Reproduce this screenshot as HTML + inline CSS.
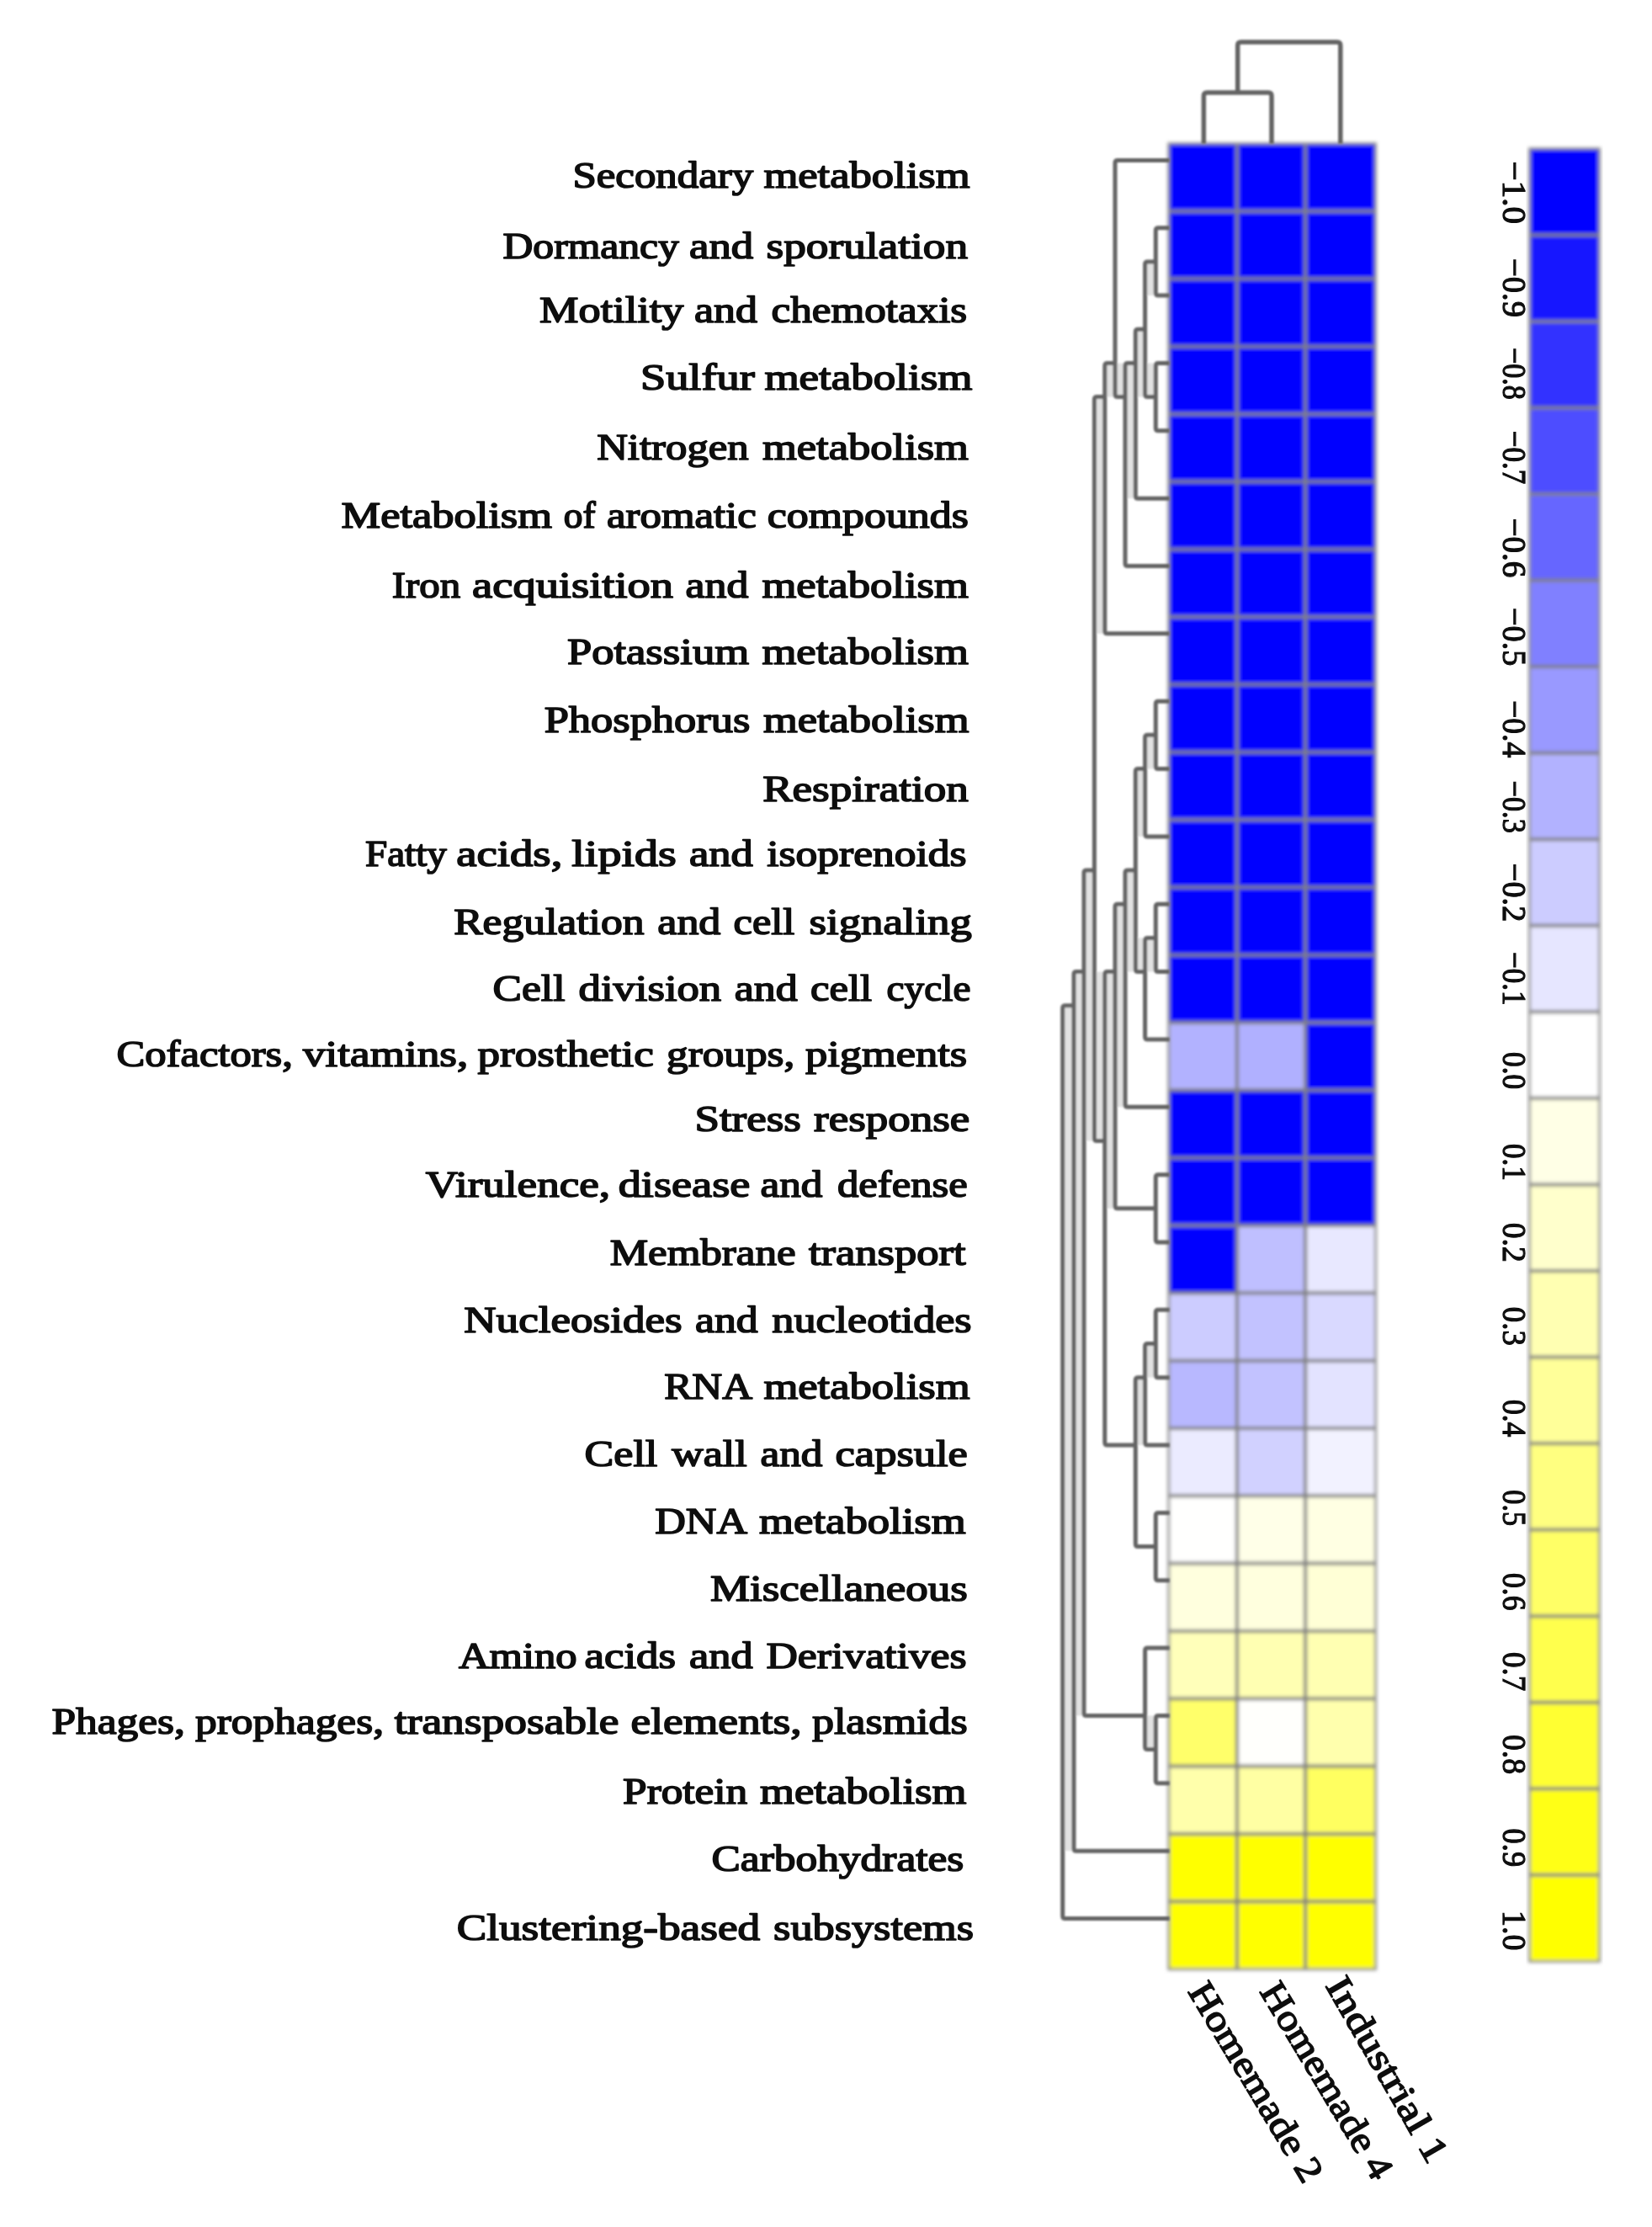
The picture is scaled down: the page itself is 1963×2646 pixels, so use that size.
<!DOCTYPE html>
<html lang="en"><head><meta charset="utf-8"><title>Heatmap of functional subsystems</title>
<style>html,body{margin:0;padding:0;background:#fff}body{width:1963px;height:2646px;overflow:hidden}svg{display:block}text{font-family:"Liberation Serif",serif;fill:#0a0a0a}.rl{font-size:44px;stroke:#0a0a0a;stroke-width:1.6px;stroke-linejoin:round}.cl{font-size:44px;stroke:#0a0a0a;stroke-width:1.5px;stroke-linejoin:round}.cb{font-size:41px;stroke:#0a0a0a;stroke-width:1.2px}</style>
</head><body>
<svg width="1963" height="2646" viewBox="0 0 1963 2646">
<defs><filter id="bg" x="-5%" y="-5%" width="110%" height="110%"><feGaussianBlur stdDeviation="1.9"/></filter><filter id="bd" x="-5%" y="-5%" width="110%" height="110%"><feGaussianBlur stdDeviation="1.1"/></filter><filter id="bt" x="-5%" y="-5%" width="110%" height="110%"><feGaussianBlur stdDeviation="0.7"/></filter></defs>
<rect width="1963" height="2646" fill="#ffffff"/>
<g id="graphics" filter="url(#bg)">
<g id="heat" shape-rendering="crispEdges">
<rect x="1388.80" y="170.70" width="81.10" height="80.33" fill="#0000ff"/>
<rect x="1469.90" y="170.70" width="81.20" height="80.33" fill="#0000ff"/>
<rect x="1551.10" y="170.70" width="83.40" height="80.33" fill="#0000ff"/>
<rect x="1388.80" y="251.03" width="81.10" height="80.33" fill="#0000ff"/>
<rect x="1469.90" y="251.03" width="81.20" height="80.33" fill="#0000ff"/>
<rect x="1551.10" y="251.03" width="83.40" height="80.33" fill="#0000ff"/>
<rect x="1388.80" y="331.36" width="81.10" height="80.33" fill="#0000ff"/>
<rect x="1469.90" y="331.36" width="81.20" height="80.33" fill="#0000ff"/>
<rect x="1551.10" y="331.36" width="83.40" height="80.33" fill="#0000ff"/>
<rect x="1388.80" y="411.69" width="81.10" height="80.33" fill="#0000ff"/>
<rect x="1469.90" y="411.69" width="81.20" height="80.33" fill="#0000ff"/>
<rect x="1551.10" y="411.69" width="83.40" height="80.33" fill="#0000ff"/>
<rect x="1388.80" y="492.02" width="81.10" height="80.33" fill="#0000ff"/>
<rect x="1469.90" y="492.02" width="81.20" height="80.33" fill="#0000ff"/>
<rect x="1551.10" y="492.02" width="83.40" height="80.33" fill="#0000ff"/>
<rect x="1388.80" y="572.35" width="81.10" height="80.33" fill="#0000ff"/>
<rect x="1469.90" y="572.35" width="81.20" height="80.33" fill="#0000ff"/>
<rect x="1551.10" y="572.35" width="83.40" height="80.33" fill="#0000ff"/>
<rect x="1388.80" y="652.68" width="81.10" height="80.33" fill="#0000ff"/>
<rect x="1469.90" y="652.68" width="81.20" height="80.33" fill="#0000ff"/>
<rect x="1551.10" y="652.68" width="83.40" height="80.33" fill="#0000ff"/>
<rect x="1388.80" y="733.01" width="81.10" height="80.33" fill="#0000ff"/>
<rect x="1469.90" y="733.01" width="81.20" height="80.33" fill="#0000ff"/>
<rect x="1551.10" y="733.01" width="83.40" height="80.33" fill="#0000ff"/>
<rect x="1388.80" y="813.34" width="81.10" height="80.33" fill="#0000ff"/>
<rect x="1469.90" y="813.34" width="81.20" height="80.33" fill="#0000ff"/>
<rect x="1551.10" y="813.34" width="83.40" height="80.33" fill="#0000ff"/>
<rect x="1388.80" y="893.67" width="81.10" height="80.33" fill="#0000ff"/>
<rect x="1469.90" y="893.67" width="81.20" height="80.33" fill="#0000ff"/>
<rect x="1551.10" y="893.67" width="83.40" height="80.33" fill="#0000ff"/>
<rect x="1388.80" y="974.00" width="81.10" height="80.33" fill="#0000ff"/>
<rect x="1469.90" y="974.00" width="81.20" height="80.33" fill="#0000ff"/>
<rect x="1551.10" y="974.00" width="83.40" height="80.33" fill="#0000ff"/>
<rect x="1388.80" y="1054.33" width="81.10" height="80.33" fill="#0000ff"/>
<rect x="1469.90" y="1054.33" width="81.20" height="80.33" fill="#0000ff"/>
<rect x="1551.10" y="1054.33" width="83.40" height="80.33" fill="#0000ff"/>
<rect x="1388.80" y="1134.66" width="81.10" height="80.33" fill="#0000ff"/>
<rect x="1469.90" y="1134.66" width="81.20" height="80.33" fill="#0000ff"/>
<rect x="1551.10" y="1134.66" width="83.40" height="80.33" fill="#0000ff"/>
<rect x="1388.80" y="1214.99" width="81.10" height="80.33" fill="#b2b2ff"/>
<rect x="1469.90" y="1214.99" width="81.20" height="80.33" fill="#b0b0ff"/>
<rect x="1551.10" y="1214.99" width="83.40" height="80.33" fill="#0000ff"/>
<rect x="1388.80" y="1295.31" width="81.10" height="80.33" fill="#0000ff"/>
<rect x="1469.90" y="1295.31" width="81.20" height="80.33" fill="#0000ff"/>
<rect x="1551.10" y="1295.31" width="83.40" height="80.33" fill="#0000ff"/>
<rect x="1388.80" y="1375.64" width="81.10" height="80.33" fill="#0000ff"/>
<rect x="1469.90" y="1375.64" width="81.20" height="80.33" fill="#0000ff"/>
<rect x="1551.10" y="1375.64" width="83.40" height="80.33" fill="#0000ff"/>
<rect x="1388.80" y="1455.97" width="81.10" height="80.33" fill="#0000ff"/>
<rect x="1469.90" y="1455.97" width="81.20" height="80.33" fill="#bfbfff"/>
<rect x="1551.10" y="1455.97" width="83.40" height="80.33" fill="#e8e8ff"/>
<rect x="1388.80" y="1536.30" width="81.10" height="80.33" fill="#ccccff"/>
<rect x="1469.90" y="1536.30" width="81.20" height="80.33" fill="#c2c2ff"/>
<rect x="1551.10" y="1536.30" width="83.40" height="80.33" fill="#d9d9ff"/>
<rect x="1388.80" y="1616.63" width="81.10" height="80.33" fill="#b8b8ff"/>
<rect x="1469.90" y="1616.63" width="81.20" height="80.33" fill="#c2c2ff"/>
<rect x="1551.10" y="1616.63" width="83.40" height="80.33" fill="#e3e3ff"/>
<rect x="1388.80" y="1696.96" width="81.10" height="80.33" fill="#ebebff"/>
<rect x="1469.90" y="1696.96" width="81.20" height="80.33" fill="#d1d1ff"/>
<rect x="1551.10" y="1696.96" width="83.40" height="80.33" fill="#f2f2ff"/>
<rect x="1388.80" y="1777.29" width="81.10" height="80.33" fill="#fffffe"/>
<rect x="1469.90" y="1777.29" width="81.20" height="80.33" fill="#ffffe8"/>
<rect x="1551.10" y="1777.29" width="83.40" height="80.33" fill="#ffffe3"/>
<rect x="1388.80" y="1857.62" width="81.10" height="80.33" fill="#ffffde"/>
<rect x="1469.90" y="1857.62" width="81.20" height="80.33" fill="#ffffde"/>
<rect x="1551.10" y="1857.62" width="83.40" height="80.33" fill="#ffffd6"/>
<rect x="1388.80" y="1937.95" width="81.10" height="80.33" fill="#ffffba"/>
<rect x="1469.90" y="1937.95" width="81.20" height="80.33" fill="#ffffb2"/>
<rect x="1551.10" y="1937.95" width="83.40" height="80.33" fill="#ffffb2"/>
<rect x="1388.80" y="2018.28" width="81.10" height="80.33" fill="#ffff6b"/>
<rect x="1469.90" y="2018.28" width="81.20" height="80.33" fill="#fffffc"/>
<rect x="1551.10" y="2018.28" width="83.40" height="80.33" fill="#ffffad"/>
<rect x="1388.80" y="2098.61" width="81.10" height="80.33" fill="#ffffab"/>
<rect x="1469.90" y="2098.61" width="81.20" height="80.33" fill="#ffffa3"/>
<rect x="1551.10" y="2098.61" width="83.40" height="80.33" fill="#ffff61"/>
<rect x="1388.80" y="2178.94" width="81.10" height="80.33" fill="#ffff00"/>
<rect x="1469.90" y="2178.94" width="81.20" height="80.33" fill="#ffff00"/>
<rect x="1551.10" y="2178.94" width="83.40" height="80.33" fill="#ffff00"/>
<rect x="1388.80" y="2259.27" width="81.10" height="80.33" fill="#ffff00"/>
<rect x="1469.90" y="2259.27" width="81.20" height="80.33" fill="#ffff00"/>
<rect x="1551.10" y="2259.27" width="83.40" height="80.33" fill="#ffff00"/>
</g>
<g id="heatgrid" stroke="#808080" stroke-width="4" fill="none">
<line x1="1388.80" y1="251.03" x2="1634.50" y2="251.03"/>
<line x1="1388.80" y1="331.36" x2="1634.50" y2="331.36"/>
<line x1="1388.80" y1="411.69" x2="1634.50" y2="411.69"/>
<line x1="1388.80" y1="492.02" x2="1634.50" y2="492.02"/>
<line x1="1388.80" y1="572.35" x2="1634.50" y2="572.35"/>
<line x1="1388.80" y1="652.68" x2="1634.50" y2="652.68"/>
<line x1="1388.80" y1="733.01" x2="1634.50" y2="733.01"/>
<line x1="1388.80" y1="813.34" x2="1634.50" y2="813.34"/>
<line x1="1388.80" y1="893.67" x2="1634.50" y2="893.67"/>
<line x1="1388.80" y1="974.00" x2="1634.50" y2="974.00"/>
<line x1="1388.80" y1="1054.33" x2="1634.50" y2="1054.33"/>
<line x1="1388.80" y1="1134.66" x2="1634.50" y2="1134.66"/>
<line x1="1388.80" y1="1214.99" x2="1634.50" y2="1214.99"/>
<line x1="1388.80" y1="1295.31" x2="1634.50" y2="1295.31"/>
<line x1="1388.80" y1="1375.64" x2="1634.50" y2="1375.64"/>
<line x1="1388.80" y1="1455.97" x2="1634.50" y2="1455.97"/>
<line x1="1388.80" y1="1536.30" x2="1634.50" y2="1536.30"/>
<line x1="1388.80" y1="1616.63" x2="1634.50" y2="1616.63"/>
<line x1="1388.80" y1="1696.96" x2="1634.50" y2="1696.96"/>
<line x1="1388.80" y1="1777.29" x2="1634.50" y2="1777.29"/>
<line x1="1388.80" y1="1857.62" x2="1634.50" y2="1857.62"/>
<line x1="1388.80" y1="1937.95" x2="1634.50" y2="1937.95"/>
<line x1="1388.80" y1="2018.28" x2="1634.50" y2="2018.28"/>
<line x1="1388.80" y1="2098.61" x2="1634.50" y2="2098.61"/>
<line x1="1388.80" y1="2178.94" x2="1634.50" y2="2178.94"/>
<line x1="1388.80" y1="2259.27" x2="1634.50" y2="2259.27"/>
<line x1="1469.90" y1="170.70" x2="1469.90" y2="2339.60"/>
<line x1="1551.10" y1="170.70" x2="1551.10" y2="2339.60"/>
</g>
<rect x="1388.80" y="170.70" width="245.70" height="2168.90" fill="none" stroke="#909090" stroke-width="3"/>
</g>
<g id="dendrograms" filter="url(#bd)">
<g id="rowdendfill" fill="#e2e2e2">
<rect x="1360.60" y="310.93" width="12.70" height="40.18"/>
<rect x="1360.60" y="431.45" width="12.70" height="40.18"/>
<rect x="1349.30" y="391.27" width="11.30" height="80.35"/>
<rect x="1337.00" y="431.45" width="12.30" height="160.70"/>
<rect x="1325.00" y="431.45" width="12.00" height="40.18"/>
<rect x="1312.80" y="431.45" width="12.20" height="40.18"/>
<rect x="1360.60" y="873.37" width="12.70" height="40.18"/>
<rect x="1360.60" y="1114.42" width="12.70" height="40.17"/>
<rect x="1349.30" y="913.55" width="11.30" height="80.35"/>
<rect x="1349.30" y="1114.42" width="11.30" height="40.17"/>
<rect x="1337.00" y="1034.08" width="12.30" height="120.52"/>
<rect x="1325.00" y="1074.25" width="12.00" height="241.05"/>
<rect x="1360.60" y="1596.53" width="12.70" height="40.17"/>
<rect x="1349.30" y="1636.70" width="11.30" height="80.35"/>
<rect x="1312.80" y="1154.60" width="12.20" height="281.23"/>
<rect x="1300.40" y="471.62" width="12.40" height="281.22"/>
<rect x="1300.40" y="1154.60" width="12.40" height="200.88"/>
<rect x="1360.60" y="2038.45" width="12.70" height="40.17"/>
<rect x="1288.00" y="1034.08" width="12.40" height="321.40"/>
<rect x="1276.00" y="1154.60" width="12.00" height="883.85"/>
<rect x="1262.70" y="1194.77" width="13.30" height="1004.37"/>
</g>
<g id="rowdend" stroke="#646464" stroke-width="5.0" fill="none" stroke-linejoin="round" stroke-linecap="butt">
<path d="M1389.80 270.75 H1376.30 Q1373.30 270.75 1373.30 273.75 V348.10 Q1373.30 351.10 1376.30 351.10 H1389.80"/>
<path d="M1389.80 431.45 H1376.30 Q1373.30 431.45 1373.30 434.45 V508.80 Q1373.30 511.80 1376.30 511.80 H1389.80"/>
<path d="M1373.30 310.93 H1363.60 Q1360.60 310.93 1360.60 313.93 V468.62 Q1360.60 471.62 1363.60 471.62 H1373.30"/>
<path d="M1360.60 391.27 H1352.30 Q1349.30 391.27 1349.30 394.27 V589.15 Q1349.30 592.15 1352.30 592.15 H1389.80"/>
<path d="M1349.30 431.45 H1340.00 Q1337.00 431.45 1337.00 434.45 V669.50 Q1337.00 672.50 1340.00 672.50 H1389.80"/>
<path d="M1389.80 190.40 H1328.00 Q1325.00 190.40 1325.00 193.40 V468.62 Q1325.00 471.62 1328.00 471.62 H1337.00"/>
<path d="M1325.00 431.45 H1315.80 Q1312.80 431.45 1312.80 434.45 V749.85 Q1312.80 752.85 1315.80 752.85 H1389.80"/>
<path d="M1389.80 833.20 H1376.30 Q1373.30 833.20 1373.30 836.20 V910.55 Q1373.30 913.55 1376.30 913.55 H1389.80"/>
<path d="M1373.30 873.37 H1363.60 Q1360.60 873.37 1360.60 876.37 V990.90 Q1360.60 993.90 1363.60 993.90 H1389.80"/>
<path d="M1389.80 1074.25 H1376.30 Q1373.30 1074.25 1373.30 1077.25 V1151.60 Q1373.30 1154.60 1376.30 1154.60 H1389.80"/>
<path d="M1373.30 1114.42 H1363.60 Q1360.60 1114.42 1360.60 1117.42 V1231.95 Q1360.60 1234.95 1363.60 1234.95 H1389.80"/>
<path d="M1360.60 913.55 H1352.30 Q1349.30 913.55 1349.30 916.55 V1151.60 Q1349.30 1154.60 1352.30 1154.60 H1360.60"/>
<path d="M1349.30 1034.08 H1340.00 Q1337.00 1034.08 1337.00 1037.08 V1312.30 Q1337.00 1315.30 1340.00 1315.30 H1389.80"/>
<path d="M1389.80 1395.65 H1376.30 Q1373.30 1395.65 1373.30 1398.65 V1473.00 Q1373.30 1476.00 1376.30 1476.00 H1389.80"/>
<path d="M1337.00 1074.25 H1328.00 Q1325.00 1074.25 1325.00 1077.25 V1432.83 Q1325.00 1435.83 1328.00 1435.83 H1373.30"/>
<path d="M1389.80 1556.35 H1376.30 Q1373.30 1556.35 1373.30 1559.35 V1633.70 Q1373.30 1636.70 1376.30 1636.70 H1389.80"/>
<path d="M1373.30 1596.53 H1363.60 Q1360.60 1596.53 1360.60 1599.53 V1714.05 Q1360.60 1717.05 1363.60 1717.05 H1389.80"/>
<path d="M1389.80 1797.40 H1376.30 Q1373.30 1797.40 1373.30 1800.40 V1874.75 Q1373.30 1877.75 1376.30 1877.75 H1389.80"/>
<path d="M1360.60 1636.70 H1352.30 Q1349.30 1636.70 1349.30 1639.70 V1834.58 Q1349.30 1837.58 1352.30 1837.58 H1373.30"/>
<path d="M1325.00 1154.60 H1315.80 Q1312.80 1154.60 1312.80 1157.60 V1714.05 Q1312.80 1717.05 1315.80 1717.05 H1349.30"/>
<path d="M1312.80 471.62 H1303.40 Q1300.40 471.62 1300.40 474.62 V1352.47 Q1300.40 1355.47 1303.40 1355.47 H1312.80"/>
<path d="M1389.80 2038.45 H1376.30 Q1373.30 2038.45 1373.30 2041.45 V2115.80 Q1373.30 2118.80 1376.30 2118.80 H1389.80"/>
<path d="M1389.80 1958.10 H1363.60 Q1360.60 1958.10 1360.60 1961.10 V2075.62 Q1360.60 2078.62 1363.60 2078.62 H1373.30"/>
<path d="M1300.40 1034.08 H1291.00 Q1288.00 1034.08 1288.00 1037.08 V2035.45 Q1288.00 2038.45 1291.00 2038.45 H1360.60"/>
<path d="M1288.00 1154.60 H1279.00 Q1276.00 1154.60 1276.00 1157.60 V2196.15 Q1276.00 2199.15 1279.00 2199.15 H1389.80"/>
<path d="M1276.00 1194.77 H1265.70 Q1262.70 1194.77 1262.70 1197.77 V2276.50 Q1262.70 2279.50 1265.70 2279.50 H1389.80"/>
</g>
<g id="coldend" stroke="#646464" stroke-width="5.5" fill="none" stroke-linejoin="round">
<path d="M1430.35 170.70 V113.90 Q1430.35 109.90 1434.35 109.90 H1507.00 Q1511.00 109.90 1511.00 113.90 V170.70"/>
<path d="M1470.67 109.90 V54.00 Q1470.67 50.00 1474.67 50.00 H1588.80 Q1592.80 50.00 1592.80 54.00 V170.70"/>
</g>
</g>
<g id="colorbar" filter="url(#bg)">
<g id="cbar" shape-rendering="crispEdges">
<rect x="1817.50" y="176.80" width="83.00" height="102.55" fill="#0000ff"/>
<rect x="1817.50" y="279.35" width="83.00" height="102.55" fill="#1919ff"/>
<rect x="1817.50" y="381.90" width="83.00" height="102.55" fill="#3333ff"/>
<rect x="1817.50" y="484.45" width="83.00" height="102.55" fill="#4d4dff"/>
<rect x="1817.50" y="587.00" width="83.00" height="102.55" fill="#6666ff"/>
<rect x="1817.50" y="689.55" width="83.00" height="102.55" fill="#8080ff"/>
<rect x="1817.50" y="792.10" width="83.00" height="102.55" fill="#9999ff"/>
<rect x="1817.50" y="894.65" width="83.00" height="102.55" fill="#b2b2ff"/>
<rect x="1817.50" y="997.20" width="83.00" height="102.55" fill="#ccccff"/>
<rect x="1817.50" y="1099.75" width="83.00" height="102.55" fill="#e6e6ff"/>
<rect x="1817.50" y="1202.30" width="83.00" height="102.55" fill="#ffffff"/>
<rect x="1817.50" y="1304.85" width="83.00" height="102.55" fill="#ffffe6"/>
<rect x="1817.50" y="1407.40" width="83.00" height="102.55" fill="#ffffcc"/>
<rect x="1817.50" y="1509.95" width="83.00" height="102.55" fill="#ffffb2"/>
<rect x="1817.50" y="1612.50" width="83.00" height="102.55" fill="#ffff99"/>
<rect x="1817.50" y="1715.05" width="83.00" height="102.55" fill="#ffff80"/>
<rect x="1817.50" y="1817.60" width="83.00" height="102.55" fill="#ffff66"/>
<rect x="1817.50" y="1920.15" width="83.00" height="102.55" fill="#ffff4d"/>
<rect x="1817.50" y="2022.70" width="83.00" height="102.55" fill="#ffff33"/>
<rect x="1817.50" y="2125.25" width="83.00" height="102.55" fill="#ffff19"/>
<rect x="1817.50" y="2227.80" width="83.00" height="102.55" fill="#ffff00"/>
</g>
<g stroke="#808080" stroke-width="4">
<line x1="1817.50" y1="279.35" x2="1900.50" y2="279.35"/>
<line x1="1817.50" y1="381.90" x2="1900.50" y2="381.90"/>
<line x1="1817.50" y1="484.45" x2="1900.50" y2="484.45"/>
<line x1="1817.50" y1="587.00" x2="1900.50" y2="587.00"/>
<line x1="1817.50" y1="689.55" x2="1900.50" y2="689.55"/>
<line x1="1817.50" y1="792.10" x2="1900.50" y2="792.10"/>
<line x1="1817.50" y1="894.65" x2="1900.50" y2="894.65"/>
<line x1="1817.50" y1="997.20" x2="1900.50" y2="997.20"/>
<line x1="1817.50" y1="1099.75" x2="1900.50" y2="1099.75"/>
<line x1="1817.50" y1="1202.30" x2="1900.50" y2="1202.30"/>
<line x1="1817.50" y1="1304.85" x2="1900.50" y2="1304.85"/>
<line x1="1817.50" y1="1407.40" x2="1900.50" y2="1407.40"/>
<line x1="1817.50" y1="1509.95" x2="1900.50" y2="1509.95"/>
<line x1="1817.50" y1="1612.50" x2="1900.50" y2="1612.50"/>
<line x1="1817.50" y1="1715.05" x2="1900.50" y2="1715.05"/>
<line x1="1817.50" y1="1817.60" x2="1900.50" y2="1817.60"/>
<line x1="1817.50" y1="1920.15" x2="1900.50" y2="1920.15"/>
<line x1="1817.50" y1="2022.70" x2="1900.50" y2="2022.70"/>
<line x1="1817.50" y1="2125.25" x2="1900.50" y2="2125.25"/>
<line x1="1817.50" y1="2227.80" x2="1900.50" y2="2227.80"/>
</g>
<rect x="1817.50" y="176.80" width="83.00" height="2153.55" fill="none" stroke="#909090" stroke-width="3"/>
</g>
<g id="texts" filter="url(#bt)">
<g id="cblabels" class="cb">
<text transform="translate(1785.80 191.51) rotate(90)" textLength="74.59" lengthAdjust="spacingAndGlyphs">−1.0</text>
<text transform="translate(1785.80 307.11) rotate(90)" textLength="69.86" lengthAdjust="spacingAndGlyphs">−0.9</text>
<text transform="translate(1785.80 412.90) rotate(90)" textLength="62.08" lengthAdjust="spacingAndGlyphs">−0.8</text>
<text transform="translate(1785.80 511.83) rotate(90)" textLength="63.41" lengthAdjust="spacingAndGlyphs">−0.7</text>
<text transform="translate(1785.80 615.38) rotate(90)" textLength="70.85" lengthAdjust="spacingAndGlyphs">−0.6</text>
<text transform="translate(1785.80 722.01) rotate(90)" textLength="69.30" lengthAdjust="spacingAndGlyphs">−0.5</text>
<text transform="translate(1785.80 832.13) rotate(90)" textLength="68.00" lengthAdjust="spacingAndGlyphs">−0.4</text>
<text transform="translate(1785.80 927.54) rotate(90)" textLength="62.32" lengthAdjust="spacingAndGlyphs">−0.3</text>
<text transform="translate(1785.80 1025.80) rotate(90)" textLength="69.57" lengthAdjust="spacingAndGlyphs">−0.2</text>
<text transform="translate(1785.80 1130.88) rotate(90)" textLength="63.58" lengthAdjust="spacingAndGlyphs">−0.1</text>
<text transform="translate(1785.80 1249.94) rotate(90)" textLength="44.23" lengthAdjust="spacingAndGlyphs">0.0</text>
<text transform="translate(1785.80 1359.05) rotate(90)" textLength="43.69" lengthAdjust="spacingAndGlyphs">0.1</text>
<text transform="translate(1785.80 1452.72) rotate(90)" textLength="46.99" lengthAdjust="spacingAndGlyphs">0.2</text>
<text transform="translate(1785.80 1552.77) rotate(90)" textLength="46.07" lengthAdjust="spacingAndGlyphs">0.3</text>
<text transform="translate(1785.80 1662.88) rotate(90)" textLength="44.49" lengthAdjust="spacingAndGlyphs">0.4</text>
<text transform="translate(1785.80 1770.28) rotate(90)" textLength="42.92" lengthAdjust="spacingAndGlyphs">0.5</text>
<text transform="translate(1785.80 1868.95) rotate(90)" textLength="44.66" lengthAdjust="spacingAndGlyphs">0.6</text>
<text transform="translate(1785.80 1962.95) rotate(90)" textLength="46.30" lengthAdjust="spacingAndGlyphs">0.7</text>
<text transform="translate(1785.80 2060.91) rotate(90)" textLength="47.16" lengthAdjust="spacingAndGlyphs">0.8</text>
<text transform="translate(1785.80 2172.61) rotate(90)" textLength="45.52" lengthAdjust="spacingAndGlyphs">0.9</text>
<text transform="translate(1785.80 2270.03) rotate(90)" textLength="47.32" lengthAdjust="spacingAndGlyphs">1.0</text>
</g>
<g id="rowlabels" class="rl">
<text y="222.60"><tspan x="680.51" textLength="214.65" lengthAdjust="spacingAndGlyphs">Secondary</tspan> <tspan x="907.43" textLength="245.12" lengthAdjust="spacingAndGlyphs">metabolism</tspan></text>
<text y="307.20"><tspan x="597.56" textLength="209.32" lengthAdjust="spacingAndGlyphs">Dormancy</tspan> <tspan x="819.12" textLength="76.07" lengthAdjust="spacingAndGlyphs">and</tspan> <tspan x="910.52" textLength="239.51" lengthAdjust="spacingAndGlyphs">sporulation</tspan></text>
<text y="383.30"><tspan x="641.14" textLength="171.16" lengthAdjust="spacingAndGlyphs">Motility</tspan> <tspan x="825.12" textLength="74.79" lengthAdjust="spacingAndGlyphs">and</tspan> <tspan x="916.52" textLength="232.71" lengthAdjust="spacingAndGlyphs">chemotaxis</tspan></text>
<text y="462.60"><tspan x="760.95" textLength="135.81" lengthAdjust="spacingAndGlyphs">Sulfur</tspan> <tspan x="908.42" textLength="247.01" lengthAdjust="spacingAndGlyphs">metabolism</tspan></text>
<text y="546.20"><tspan x="709.18" textLength="180.60" lengthAdjust="spacingAndGlyphs">Nitrogen</tspan> <tspan x="905.95" textLength="244.98" lengthAdjust="spacingAndGlyphs">metabolism</tspan></text>
<text y="627.30"><tspan x="405.52" textLength="250.54" lengthAdjust="spacingAndGlyphs">Metabolism</tspan> <tspan x="669.87" textLength="37.80" lengthAdjust="spacingAndGlyphs">of</tspan> <tspan x="721.04" textLength="177.70" lengthAdjust="spacingAndGlyphs">aromatic</tspan> <tspan x="911.85" textLength="238.99" lengthAdjust="spacingAndGlyphs">compounds</tspan></text>
<text y="710.00"><tspan x="465.75" textLength="81.40" lengthAdjust="spacingAndGlyphs">Iron</tspan> <tspan x="561.04" textLength="239.09" lengthAdjust="spacingAndGlyphs">acquisition</tspan> <tspan x="814.64" textLength="74.67" lengthAdjust="spacingAndGlyphs">and</tspan> <tspan x="905.42" textLength="245.50" lengthAdjust="spacingAndGlyphs">metabolism</tspan></text>
<text y="788.60"><tspan x="673.90" textLength="216.18" lengthAdjust="spacingAndGlyphs">Potassium</tspan> <tspan x="905.42" textLength="245.50" lengthAdjust="spacingAndGlyphs">metabolism</tspan></text>
<text y="869.50"><tspan x="646.66" textLength="244.70" lengthAdjust="spacingAndGlyphs">Phosphorus</tspan> <tspan x="906.95" textLength="244.59" lengthAdjust="spacingAndGlyphs">metabolism</tspan></text>
<text y="951.80"><tspan x="906.15" textLength="244.72" lengthAdjust="spacingAndGlyphs">Respiration</tspan></text>
<text y="1029.00"><tspan x="433.93" textLength="96.89" lengthAdjust="spacingAndGlyphs">Fatty</tspan> <tspan x="542.23" textLength="126.11" lengthAdjust="spacingAndGlyphs">acids,</tspan> <tspan x="679.32" textLength="124.45" lengthAdjust="spacingAndGlyphs">lipids</tspan> <tspan x="818.96" textLength="75.76" lengthAdjust="spacingAndGlyphs">and</tspan> <tspan x="911.18" textLength="237.42" lengthAdjust="spacingAndGlyphs">isoprenoids</tspan></text>
<text y="1109.80"><tspan x="539.18" textLength="226.33" lengthAdjust="spacingAndGlyphs">Regulation</tspan> <tspan x="781.36" textLength="74.92" lengthAdjust="spacingAndGlyphs">and</tspan> <tspan x="871.59" textLength="72.62" lengthAdjust="spacingAndGlyphs">cell</tspan> <tspan x="961.52" textLength="193.33" lengthAdjust="spacingAndGlyphs">signaling</tspan></text>
<text y="1189.20"><tspan x="585.57" textLength="85.92" lengthAdjust="spacingAndGlyphs">Cell</tspan> <tspan x="687.62" textLength="169.53" lengthAdjust="spacingAndGlyphs">division</tspan> <tspan x="872.75" textLength="74.91" lengthAdjust="spacingAndGlyphs">and</tspan> <tspan x="963.10" textLength="73.11" lengthAdjust="spacingAndGlyphs">cell</tspan> <tspan x="1053.63" textLength="99.75" lengthAdjust="spacingAndGlyphs">cycle</tspan></text>
<text y="1267.00"><tspan x="138.51" textLength="209.43" lengthAdjust="spacingAndGlyphs">Cofactors,</tspan> <tspan x="360.03" textLength="196.17" lengthAdjust="spacingAndGlyphs">vitamins,</tspan> <tspan x="567.57" textLength="209.17" lengthAdjust="spacingAndGlyphs">prosthetic</tspan> <tspan x="792.11" textLength="152.11" lengthAdjust="spacingAndGlyphs">groups,</tspan> <tspan x="957.08" textLength="192.19" lengthAdjust="spacingAndGlyphs">pigments</tspan></text>
<text y="1344.00"><tspan x="825.46" textLength="126.47" lengthAdjust="spacingAndGlyphs">Stress</tspan> <tspan x="967.05" textLength="185.25" lengthAdjust="spacingAndGlyphs">response</tspan></text>
<text y="1422.40"><tspan x="505.76" textLength="219.37" lengthAdjust="spacingAndGlyphs">Virulence,</tspan> <tspan x="734.75" textLength="156.61" lengthAdjust="spacingAndGlyphs">disease</tspan> <tspan x="903.50" textLength="73.78" lengthAdjust="spacingAndGlyphs">and</tspan> <tspan x="995.03" textLength="154.80" lengthAdjust="spacingAndGlyphs">defense</tspan></text>
<text y="1503.30"><tspan x="724.65" textLength="220.96" lengthAdjust="spacingAndGlyphs">Membrane</tspan> <tspan x="960.99" textLength="186.65" lengthAdjust="spacingAndGlyphs">transport</tspan></text>
<text y="1583.30"><tspan x="551.29" textLength="259.43" lengthAdjust="spacingAndGlyphs">Nucleosides</tspan> <tspan x="826.11" textLength="74.60" lengthAdjust="spacingAndGlyphs">and</tspan> <tspan x="917.33" textLength="237.28" lengthAdjust="spacingAndGlyphs">nucleotides</tspan></text>
<text y="1661.70"><tspan x="789.19" textLength="102.20" lengthAdjust="spacingAndGlyphs">RNA</tspan> <tspan x="907.43" textLength="245.12" lengthAdjust="spacingAndGlyphs">metabolism</tspan></text>
<text y="1742.10"><tspan x="694.51" textLength="86.84" lengthAdjust="spacingAndGlyphs">Cell</tspan> <tspan x="798.27" textLength="89.35" lengthAdjust="spacingAndGlyphs">wall</tspan> <tspan x="903.50" textLength="73.78" lengthAdjust="spacingAndGlyphs">and</tspan> <tspan x="992.59" textLength="157.33" lengthAdjust="spacingAndGlyphs">capsule</tspan></text>
<text y="1821.50"><tspan x="778.29" textLength="106.87" lengthAdjust="spacingAndGlyphs">DNA</tspan> <tspan x="902.05" textLength="245.78" lengthAdjust="spacingAndGlyphs">metabolism</tspan></text>
<text y="1902.00"><tspan x="843.90" textLength="305.92" lengthAdjust="spacingAndGlyphs">Miscellaneous</tspan></text>
<text y="1981.90"><tspan x="544.99" textLength="140.57" lengthAdjust="spacingAndGlyphs">Amino</tspan> <tspan x="694.49" textLength="108.63" lengthAdjust="spacingAndGlyphs">acids</tspan> <tspan x="819.11" textLength="75.46" lengthAdjust="spacingAndGlyphs">and</tspan> <tspan x="910.51" textLength="238.13" lengthAdjust="spacingAndGlyphs">Derivatives</tspan></text>
<text y="2060.20"><tspan x="61.50" textLength="158.44" lengthAdjust="spacingAndGlyphs">Phages,</tspan> <tspan x="232.08" textLength="223.93" lengthAdjust="spacingAndGlyphs">prophages,</tspan> <tspan x="468.85" textLength="266.68" lengthAdjust="spacingAndGlyphs">transposable</tspan> <tspan x="749.59" textLength="203.05" lengthAdjust="spacingAndGlyphs">elements,</tspan> <tspan x="964.95" textLength="184.86" lengthAdjust="spacingAndGlyphs">plasmids</tspan></text>
<text y="2143.00"><tspan x="740.14" textLength="148.15" lengthAdjust="spacingAndGlyphs">Protein</tspan> <tspan x="903.05" textLength="245.39" lengthAdjust="spacingAndGlyphs">metabolism</tspan></text>
<text y="2223.30"><tspan x="845.52" textLength="299.82" lengthAdjust="spacingAndGlyphs">Carbohydrates</tspan></text>
<text y="2305.20"><tspan x="542.76" textLength="360.35" lengthAdjust="spacingAndGlyphs">Clustering-based</tspan> <tspan x="919.13" textLength="237.94" lengthAdjust="spacingAndGlyphs">subsystems</tspan></text>
</g>
<g id="collabels" class="cl">
<text transform="translate(1410.80 2366.00) rotate(59)" textLength="268.70" lengthAdjust="spacingAndGlyphs">Homemade 2</text>
<text transform="translate(1496.10 2366.00) rotate(59)" textLength="264.50" lengthAdjust="spacingAndGlyphs">Homemade 4</text>
<text transform="translate(1574.30 2359.10) rotate(60)" textLength="247.00" lengthAdjust="spacingAndGlyphs">Industrial 1</text>
</g>
</g>
</svg>
</body></html>
